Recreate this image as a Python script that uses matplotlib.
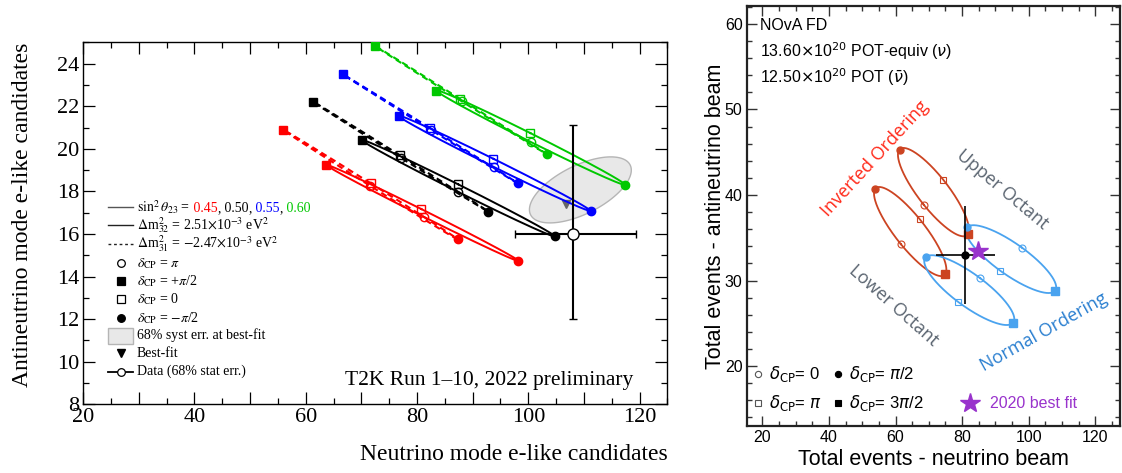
import numpy as np
import matplotlib
matplotlib.use('Agg')
import matplotlib.pyplot as plt
from matplotlib.ticker import MultipleLocator, FuncFormatter
from matplotlib.patches import Rectangle
from matplotlib.offsetbox import TextArea, HPacker, AnchoredOffsetbox

plt.rcParams['mathtext.fontset'] = 'stix'

SERIF = 'Liberation Serif'
SANS = 'Liberation Sans'

# ---------------- T2K (left) ----------------
t2k_sin2 = ['0.45', '0.50', '0.55', '0.60']
t2k_colors = ['#ff0000', '#000000', '#0000ff', '#00c800']

# normal ordering (solid), dcp = +pi/2, pi, 0, -pi/2
nh_nu_p2 = [63.7, 70.2, 76.7, 83.5]
nh_nb_p2 = [19.24, 20.41, 21.55, 22.73]
nh_nu_pi = [81.2, 87.4, 93.9, 100.4]
nh_nb_pi = [16.81, 17.96, 19.13, 20.33]
nh_nu_0 = [80.8, 87.3, 93.7, 100.3]
nh_nb_0 = [17.17, 18.33, 19.53, 20.75]
nh_nu_m2 = [98.2, 104.8, 111.2, 117.4]
nh_nb_m2 = [14.74, 15.90, 17.09, 18.31]

# inverted ordering (dashed)
ih_nu_p2 = [56.0, 61.3, 66.7, 72.5]
ih_nb_p2 = [20.88, 22.21, 23.49, 24.82]
ih_nu_pi = [71.6, 77.1, 82.5, 88.0]
ih_nb_pi = [18.26, 19.58, 20.89, 22.24]
ih_nu_0 = [71.7, 77.0, 82.3, 87.8]
ih_nb_0 = [18.38, 19.69, 20.99, 22.34]
ih_nu_m2 = [87.3, 92.8, 98.1, 103.3]
ih_nb_m2 = [15.75, 17.05, 18.38, 19.75]

t2k_data = (108.0, 16.0)
t2k_data_xerr = (10.4, 11.4)
t2k_data_yerr = (4.0, 5.1)
t2k_bestfit = (106.8, 17.4)
syst_center = (109.35, 18.07)
syst_half = (9.15, 1.55)
syst_phase = 0.93

# ---------------- NOvA (right) ----------------
nova_labels = ['IO upper', 'IO lower', 'NO upper', 'NO lower']
nova_colors = ['#cc4422', '#cc4422', '#4aa3ef', '#4aa3ef']
# dcp = 0, pi/2, pi, 3pi/2
nova_nu_0 = [68.4, 61.6, 98.0, 85.4]
nova_nb_0 = [38.85, 34.25, 33.85, 30.27]
nova_nu_p2 = [61.2, 53.9, 81.45, 69.0]
nova_nb_p2 = [45.3, 40.73, 36.24, 32.73]
nova_nu_pi = [74.2, 67.2, 91.45, 78.9]
nova_nb_pi = [41.8, 37.2, 31.16, 27.46]
nova_nu_3p2 = [81.7, 74.9, 107.8, 95.26]
nova_nb_3p2 = [35.4, 30.74, 28.78, 25.07]

nova_data = (80.9, 33.0)
nova_data_xerr = 8.9
nova_data_yerr = 5.7
nova_bestfit = (84.7, 33.47)


def dcp_loop(xs, ys):
    # xs, ys ordered as (sin=+1, cos=-1, cos=+1, sin=-1)
    t = np.linspace(0, 2 * np.pi, 300)
    cx, cy = np.mean(xs), np.mean(ys)
    ax_, bx = (xs[2] - xs[1]) / 2, (xs[0] - xs[3]) / 2
    ay_, by = (ys[2] - ys[1]) / 2, (ys[0] - ys[3]) / 2
    return cx + ax_ * np.cos(t) + bx * np.sin(t), cy + ay_ * np.cos(t) + by * np.sin(t)


fig = plt.figure(figsize=(11.22, 4.73), dpi=100)
ax1 = fig.add_axes([0.074, 0.1452, 0.5209, 0.7653])
ax2 = fig.add_axes([0.6655, 0.0994, 0.3327, 0.888])

# ---- left panel ----
t = np.linspace(0, 2 * np.pi, 300)
ex = syst_center[0] + syst_half[0] * np.cos(t)
ey = syst_center[1] + syst_half[1] * np.cos(t - syst_phase)
ax1.fill(ex, ey, facecolor='#e8e8e8', edgecolor='#b5b5b5', lw=1, zorder=1)
ax1.plot(*t2k_bestfit, marker='v', color='#666666', ms=6, ls='none', zorder=2)

for i, c in enumerate(t2k_colors):
    x, y = dcp_loop([ih_nu_p2[i], ih_nu_pi[i], ih_nu_0[i], ih_nu_m2[i]],
                    [ih_nb_p2[i], ih_nb_pi[i], ih_nb_0[i], ih_nb_m2[i]])
    ax1.plot(x, y, color=c, lw=1.5, ls=(0, (3, 2)), zorder=3)
    x, y = dcp_loop([nh_nu_p2[i], nh_nu_pi[i], nh_nu_0[i], nh_nu_m2[i]],
                    [nh_nb_p2[i], nh_nb_pi[i], nh_nb_0[i], nh_nb_m2[i]])
    ax1.plot(x, y, color=c, lw=1.4, zorder=3)
    for nu, nb in ((ih_nu_p2, ih_nb_p2), (nh_nu_p2, nh_nb_p2)):
        ax1.plot(nu[i], nb[i], marker='s', color=c, ms=6, ls='none', zorder=4)
    for nu, nb in ((ih_nu_m2, ih_nb_m2), (nh_nu_m2, nh_nb_m2)):
        ax1.plot(nu[i], nb[i], marker='o', color=c, ms=6, ls='none', zorder=4)
    for nu, nb in ((ih_nu_0, ih_nb_0), (nh_nu_0, nh_nb_0)):
        ax1.plot(nu[i], nb[i], marker='s', mfc='none', mec=c, ms=6, mew=1, ls='none', zorder=4)
    for nu, nb in ((ih_nu_pi, ih_nb_pi), (nh_nu_pi, nh_nb_pi)):
        ax1.plot(nu[i], nb[i], marker='o', mfc='none', mec=c, ms=6, mew=1, ls='none', zorder=4)

ax1.errorbar(t2k_data[0], t2k_data[1],
             xerr=[[t2k_data_xerr[0]], [t2k_data_xerr[1]]],
             yerr=[[t2k_data_yerr[0]], [t2k_data_yerr[1]]],
             fmt='o', color='black', mfc='white', ms=8, mew=1, lw=1.5,
             capsize=3, capthick=1.5, zorder=5)

ax1.set_xlim(20, 125)
ax1.set_ylim(8, 25)
ax1.xaxis.set_major_locator(MultipleLocator(10))
ax1.xaxis.set_minor_locator(MultipleLocator(5))
ax1.xaxis.set_major_formatter(FuncFormatter(lambda v, p: f'{v:.0f}' if round(v) % 20 == 0 else ''))
ax1.yaxis.set_major_locator(MultipleLocator(2))
ax1.yaxis.set_minor_locator(MultipleLocator(1))
ax1.tick_params(which='both', direction='in', top=True, right=True, width=0.9)
ax1.tick_params(which='major', length=8.5, labelsize=16, pad=3)
ax1.tick_params(which='minor', length=4.3)
for lab in ax1.get_xticklabels() + ax1.get_yticklabels():
    lab.set_family(SERIF)
for s in ax1.spines.values():
    s.set_linewidth(1.0)

ax1.set_xlabel('Neutrino mode e-like candidates', fontsize=17, family=SERIF, loc='right')
ax1.xaxis.set_label_coords(1.0, -0.11)
ax1.set_ylabel('Antineutrino mode e-like candidates', fontsize=17, family=SERIF, loc='top')
ax1.yaxis.set_label_coords(-0.085, 1.0)
ax1.text(118.9, 9.14, 'T2K Run 1\u201310, 2022 preliminary', fontsize=15.5, family=SERIF,
         ha='right', va='center')

# legend (drawn by hand, ROOT style)
lx0, lx1, ltx, lmx = 0.043, 0.086, 0.092, 0.065
rows = [0.545, 0.495, 0.443, 0.390, 0.341, 0.290, 0.239, 0.190, 0.141, 0.090]
lfs = 10
tr = ax1.transAxes
ax1.plot([lx0, lx1], [rows[0]] * 2, color='#555555', lw=1, transform=tr)
ax1.plot([lx0, lx1], [rows[1]] * 2, color='#222222', lw=1, transform=tr)
ax1.plot([lx0, lx1], [rows[2]] * 2, color='#222222', lw=1, ls=(0, (2, 2)), transform=tr)

# first legend row has coloured numbers
parts = [TextArea(r'$\sin^2\theta_{23}$ =', textprops=dict(fontsize=lfs, family=SERIF))]
for k, (val, c) in enumerate(zip(t2k_sin2, t2k_colors)):
    parts.append(TextArea(' ' + val, textprops=dict(fontsize=lfs, family=SERIF, color=c)))
    if k < len(t2k_sin2) - 1:
        parts.append(TextArea(',', textprops=dict(fontsize=lfs, family=SERIF)))
row0 = AnchoredOffsetbox(loc='center left', child=HPacker(children=parts, align='baseline',
                                                          pad=0, sep=0),
                         bbox_to_anchor=(ltx, rows[0]), bbox_transform=tr,
                         frameon=False, pad=0, borderpad=0)
ax1.add_artist(row0)
ax1.text(ltx, rows[1], r'$\Delta$m$^2_{32}$ = 2.51$\times$10$^{-3}$ eV$^2$', fontsize=lfs,
         family=SERIF, transform=tr, va='center')
ax1.text(ltx, rows[2], r'$\Delta$m$^2_{31}$ = $-$2.47$\times$10$^{-3}$ eV$^2$', fontsize=lfs,
         family=SERIF, transform=tr, va='center')

leg_marks = [('o', 'none'), ('s', 'black'), ('s', 'none'), ('o', 'black')]
leg_texts = [r'$\delta_{\rm CP}$ = $\pi$', r'$\delta_{\rm CP}$ = +$\pi$/2',
             r'$\delta_{\rm CP}$ = 0', r'$\delta_{\rm CP}$ = $-\pi$/2']
for r, (m, fc), s in zip(rows[3:7], leg_marks, leg_texts):
    ax1.plot(lmx, r, marker=m, mfc=fc, mec='black', ms=5.5, mew=0.9, transform=tr, ls='none')
    ax1.text(ltx, r, s, fontsize=lfs, family=SERIF, transform=tr, va='center')
ax1.add_patch(Rectangle((lx0, rows[7] - 0.022), lx1 - lx0, 0.044, transform=tr,
                        facecolor='#e8e8e8', edgecolor='#b5b5b5', lw=1))
ax1.text(ltx, rows[7], '68% syst err. at best-fit', fontsize=lfs, family=SERIF,
         transform=tr, va='center')
ax1.plot(lmx, rows[8], marker='v', color='black', ms=5.5, transform=tr, ls='none')
ax1.text(ltx, rows[8], 'Best-fit', fontsize=lfs, family=SERIF, transform=tr, va='center')
ax1.plot([lx0, lx1], [rows[9]] * 2, color='black', lw=1.3, transform=tr)
ax1.plot(lmx, rows[9], marker='o', mfc='white', mec='black', ms=5.5, mew=0.9,
         transform=tr, ls='none')
ax1.text(ltx, rows[9], 'Data (68% stat err.)', fontsize=lfs, family=SERIF,
         transform=tr, va='center')

# ---- right panel ----
for i, c in enumerate(nova_colors):
    x, y = dcp_loop([nova_nu_p2[i], nova_nu_pi[i], nova_nu_0[i], nova_nu_3p2[i]],
                    [nova_nb_p2[i], nova_nb_pi[i], nova_nb_0[i], nova_nb_3p2[i]])
    ax2.plot(x, y, color=c, lw=1.3, zorder=2)
    ax2.plot(nova_nu_0[i], nova_nb_0[i], marker='o', mfc='none', mec=c, ms=5, mew=0.8, zorder=3)
    ax2.plot(nova_nu_pi[i], nova_nb_pi[i], marker='s', mfc='none', mec=c, ms=5, mew=0.8, zorder=3)
    ax2.plot(nova_nu_p2[i], nova_nb_p2[i], marker='o', color=c, ms=5, zorder=3)
    ax2.plot(nova_nu_3p2[i], nova_nb_3p2[i], marker='s', color=c, ms=5.5, zorder=3)

ax2.errorbar(nova_data[0], nova_data[1], xerr=nova_data_xerr, yerr=nova_data_yerr,
             fmt='o', color='black', ms=5, lw=1.2, zorder=4)
ax2.plot(*nova_bestfit, marker='*', color='#9933cc', ms=15, ls='none', zorder=5)

ax2.set_xlim(15.3, 127.4)
ax2.set_ylim(13, 62.1)
ax2.xaxis.set_major_locator(MultipleLocator(20))
ax2.xaxis.set_minor_locator(MultipleLocator(5))
ax2.yaxis.set_major_locator(MultipleLocator(10))
ax2.yaxis.set_minor_locator(MultipleLocator(2))
ax2.tick_params(which='both', direction='in', top=True, right=True, width=1, color='#333333')
ax2.tick_params(which='major', length=7, labelsize=11.5, pad=3)
ax2.tick_params(which='minor', length=3.5)
for lab in ax2.get_xticklabels() + ax2.get_yticklabels():
    lab.set_family(SANS)
for s in ax2.spines.values():
    s.set_linewidth(1.6)
    s.set_color('#222222')

ax2.set_xlabel('Total events - neutrino beam', fontsize=15.5, family=SANS)
ax2.xaxis.set_label_coords(0.5, -0.055)
ax2.set_ylabel('Total events - antineutrino beam', fontsize=15.5, family=SANS)
ax2.yaxis.set_label_coords(-0.055, 0.5)

ax2.text(19.3, 59.8, 'NOvA FD', fontsize=11.5, family=SANS, va='center')
ax2.text(19.3, 56.8, r'13.60$\times$10$^{20}$ POT-equiv ($\nu$)', fontsize=11.5, family=SANS,
         va='center', math_fontfamily='dejavusans')
ax2.text(19.3, 53.8, r'12.50$\times$10$^{20}$ POT ($\bar{\nu}$)', fontsize=11.5, family=SANS,
         va='center', math_fontfamily='dejavusans')

ax2.text(53.9, 44.3, 'Inverted Ordering', color='#ff2a1a', fontsize=13, family='Open Sans',
         rotation=47.5, rotation_mode='anchor', ha='center', va='center')
ax2.text(92.1, 40.6, 'Upper Octant', color='#5a6470', fontsize=13, family='Open Sans',
         rotation=-40, rotation_mode='anchor', ha='center', va='center')
ax2.text(59.4, 27.1, 'Lower Octant', color='#5a6470', fontsize=13, family='Open Sans',
         rotation=-41.5, rotation_mode='anchor', ha='center', va='center')
ax2.text(104.5, 24.0, 'Normal Ordering', color='#2a7fd0', fontsize=13, family='Open Sans',
         rotation=29.3, rotation_mode='anchor', ha='center', va='center')

nleg = [(18.8, 19.06, 'o', 'none', r'$\delta_{\rm CP}$= 0'),
        (42.85, 19.06, 'o', 'black', r'$\delta_{\rm CP}$= $\pi$/2'),
        (18.8, 15.63, 's', 'none', r'$\delta_{\rm CP}$= $\pi$'),
        (42.85, 15.63, 's', 'black', r'$\delta_{\rm CP}$= 3$\pi$/2')]
for mx, my, m, fc, s in nleg:
    ax2.plot(mx, my, marker=m, mfc=fc, mec='#555555' if fc == 'none' else 'black',
             ms=4.5, mew=0.8, ls='none')
    ax2.text(mx + 3.2, my, s, fontsize=12, family=SANS, va='center',
             math_fontfamily='dejavusans')
ax2.plot(82.4, 15.63, marker='*', color='#9933cc', ms=15, ls='none')
ax2.text(88.4, 15.63, '2020 best fit', color='#9933cc', fontsize=11.5, family=SANS, va='center')

fig.savefig('out.png', dpi=100)
